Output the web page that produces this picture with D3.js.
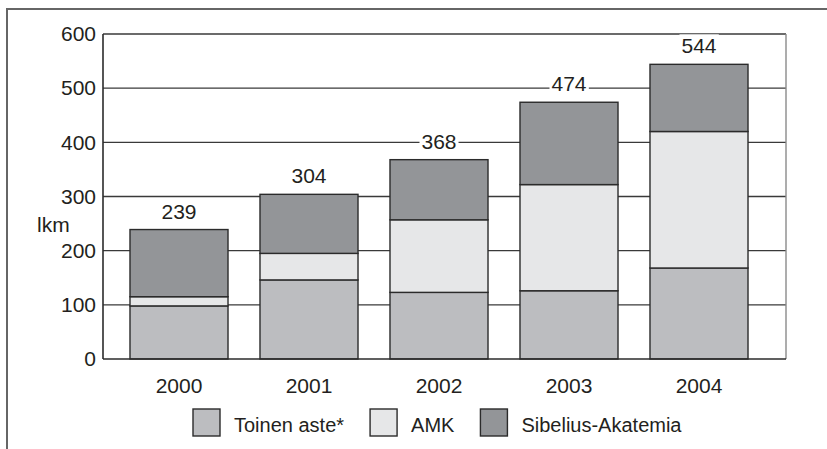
<!doctype html>
<html lang="fi">
<head>
<meta charset="utf-8">
<title>lkm</title>
<style>
body { margin: 0; background: #fff; }
text { font-family: "Liberation Sans", Arial, sans-serif; fill: #231f20; }
</style>
</head>
<body>
<script src="https://d3js.org/d3.v7.min.js"></script>
<script>
var years = ["2000", "2001", "2002", "2003", "2004"];
var toinenAste = [98, 146, 123, 126, 168];
var amk = [17, 49, 134, 196, 252];
var sibelius = [124, 109, 111, 152, 124];
var totals = [239, 304, 368, 474, 544];
var seriesNames = ["Toinen aste*", "AMK", "Sibelius-Akatemia"];
var seriesKeys = ["toinen", "amk", "sibelius"];
var yTicks = [0, 100, 200, 300, 400, 500, 600];

var colors = {toinen: "#bcbdc0", amk: "#e6e7e8", sibelius: "#939598"};

var margin = {top: 34, left: 103},
    width = 683,
    height = 325;

var svg = d3.select("body").append("svg")
    .attr("width", 827)
    .attr("height", 449);

// outer frame, cut off at right and bottom
svg.append("rect")
    .attr("x", 7).attr("y", 9)
    .attr("width", 840).attr("height", 460)
    .attr("fill", "none")
    .attr("stroke", "#666")
    .attr("stroke-width", 2);

var g = svg.append("g")
    .attr("transform", "translate(" + margin.left + "," + margin.top + ")");

var x = d3.scaleBand()
    .domain(years)
    .range([11, 661])
    .paddingInner(0.246)
    .paddingOuter(0.123);

var y = d3.scaleLinear()
    .domain([0, 600])
    .range([height, 0]);

var rows = years.map(function(yr, i) {
    return {year: yr, toinen: toinenAste[i], amk: amk[i], sibelius: sibelius[i], total: totals[i]};
});
var stacked = d3.stack().keys(seriesKeys)(rows);

// gridlines
g.append("g").selectAll("line")
    .data(yTicks.filter(function(d) { return d > 0; }))
    .enter().append("line")
    .attr("x1", 0).attr("x2", width)
    .attr("y1", function(d) { return y(d); })
    .attr("y2", function(d) { return y(d); })
    .attr("stroke", "#3a3a3a")
    .attr("stroke-width", 1.4);

// value labels with white box that breaks the gridlines
var labels = g.append("g").selectAll("g")
    .data(rows)
    .enter().append("g");
labels.append("text")
    .attr("x", function(d) { return x(d.year) + x.bandwidth() / 2; })
    .attr("y", function(d) { return y(d.total) - 11; })
    .attr("text-anchor", "middle")
    .style("font-size", "21px")
    .text(function(d) { return d.total; });
labels.each(function() {
    var t = d3.select(this).select("text");
    var b = t.node().getBBox();
    d3.select(this).insert("rect", "text")
        .attr("x", b.x - 2).attr("y", b.y)
        .attr("width", b.width + 4).attr("height", b.height)
        .attr("fill", "#fff");
});

// bars
g.append("g").selectAll("g")
    .data(stacked)
    .enter().append("g")
    .attr("fill", function(d) { return colors[d.key]; })
    .selectAll("rect")
    .data(function(d) { return d; })
    .enter().append("rect")
    .attr("x", function(d) { return x(d.data.year); })
    .attr("y", function(d) { return y(d[1]); })
    .attr("width", x.bandwidth())
    .attr("height", function(d) { return y(d[0]) - y(d[1]); })
    .attr("stroke", "#2b2b2b")
    .attr("stroke-width", 1.4);

// plot frame
g.append("line").attr("x1", width).attr("x2", width).attr("y1", 0).attr("y2", height)
    .attr("stroke", "#8a8a8a").attr("stroke-width", 1.4);
g.append("line").attr("x1", 0).attr("x2", 0).attr("y1", 0).attr("y2", height)
    .attr("stroke", "#2b2b2b").attr("stroke-width", 1.6);
g.append("line").attr("x1", 0).attr("x2", width).attr("y1", height).attr("y2", height)
    .attr("stroke", "#2b2b2b").attr("stroke-width", 1.6);

// axes
var yAxis = g.append("g")
    .call(d3.axisLeft(y).tickValues(yTicks).tickSize(0).tickPadding(7));
yAxis.select(".domain").remove();
yAxis.attr("font-family", null);
yAxis.selectAll("text").style("font-size", "21px").attr("fill", "#231f20");

var xAxis = g.append("g")
    .attr("transform", "translate(0," + height + ")")
    .call(d3.axisBottom(x).tickSize(0).tickPadding(19));
xAxis.select(".domain").remove();
xAxis.attr("font-family", null);
xAxis.selectAll("text").style("font-size", "21px").attr("fill", "#231f20");

svg.append("text")
    .attr("x", 37).attr("y", 232)
    .style("font-size", "21px")
    .text("lkm");

// legend
var legend = svg.append("g");
var lx = 193;
seriesKeys.forEach(function(k, i) {
    legend.append("rect")
        .attr("x", lx).attr("y", 409)
        .attr("width", 27).attr("height", 27)
        .attr("fill", colors[k])
        .attr("stroke", "#2b2b2b")
        .attr("stroke-width", 1.4);
    var t = legend.append("text")
        .attr("x", lx + 41).attr("y", 432)
        .style("font-size", "20px")
        .text(seriesNames[i]);
    lx += 41 + t.node().getComputedTextLength() + 26;
});
</script>
</body>
</html>
